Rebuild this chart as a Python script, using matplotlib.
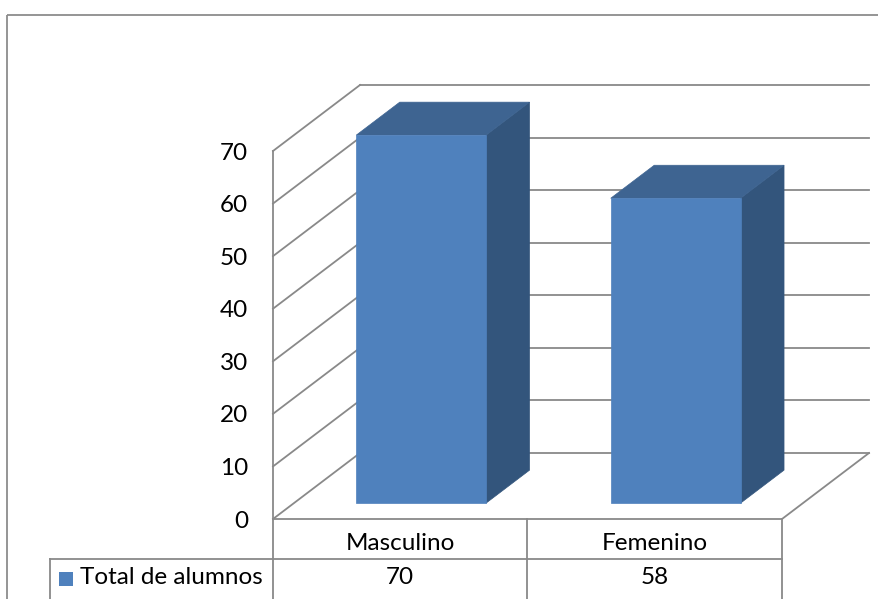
import matplotlib
matplotlib.use("Agg")
import matplotlib.pyplot as plt
from matplotlib.patches import Polygon, Rectangle

categories = ["Masculino", "Femenino"]
values = [70, 58]
series_name = "Total de alumnos"
y_ticks = [0, 10, 20, 30, 40, 50, 60, 70]

W, H = 879, 599
FRONT = "#4F81BD"
TOP = "#3E6491"
SIDE = "#33557C"
GRID = "#898989"
FONT = "Lato"
FS = 17.5

# front plane of the 3D box in pixels
X0, X1 = 273, 782
Y0, YTOP = 519, 151
DEPTH_PX = (87, 66)

fig = plt.figure(figsize=(W / 100, H / 100), dpi=100)

bg = fig.add_axes([0, 0, 1, 1])
bg.set_xlim(0, W)
bg.set_ylim(H, 0)
bg.axis("off")

ax = fig.add_axes([X0 / W, 1 - Y0 / H, (X1 - X0) / W, (Y0 - YTOP) / H])
ax.set_xlim(0, len(categories))
ax.set_ylim(0, max(y_ticks))
ax.patch.set_alpha(0)
for sp in ax.spines.values():
    sp.set_visible(False)
ax.set_xticks([])
ax.set_yticks(y_ticks)
ax.set_yticklabels([str(t) for t in y_ticks], fontsize=FS, family=FONT)
ax.tick_params(axis="y", length=0, pad=18)

DX = DEPTH_PX[0] / (X1 - X0) * len(categories)
DY = DEPTH_PX[1] / (Y0 - YTOP) * max(y_ticks)


def proj(x, v, d):
    return x + d * DX, v + d * DY


lw = 1.3
n = len(categories)
vmax = max(y_ticks)

# back wall gridlines and left wall
for t in y_ticks:
    a, b = proj(0, t, 1), proj(n, t, 1)
    ax.plot([a[0], b[0]], [a[1], b[1]], color=GRID, lw=lw, clip_on=False, zorder=1)
    a, b = proj(0, t, 0), proj(0, t, 1)
    ax.plot([a[0], b[0]], [a[1], b[1]], color=GRID, lw=lw, clip_on=False, zorder=1)
a, b = proj(0, 0, 0), proj(0, vmax, 0)
ax.plot([a[0], b[0]], [a[1], b[1]], color=GRID, lw=lw, clip_on=False, zorder=1)
# floor
a, b, c = proj(0, 0, 0), proj(n, 0, 0), proj(n, 0, 1)
ax.plot([a[0], b[0], c[0]], [a[1], b[1], c[1]], color=GRID, lw=lw, clip_on=False, zorder=1)

# bars
hw, d0, d1 = 0.255, 0.24, 0.74
for i, v in enumerate(values):
    xc = i + 0.5
    front = [proj(xc - hw, 0, d0), proj(xc + hw, 0, d0), proj(xc + hw, v, d0), proj(xc - hw, v, d0)]
    top = [proj(xc - hw, v, d0), proj(xc + hw, v, d0), proj(xc + hw, v, d1), proj(xc - hw, v, d1)]
    side = [proj(xc + hw, 0, d0), proj(xc + hw, 0, d1), proj(xc + hw, v, d1), proj(xc + hw, v, d0)]
    for pts, col in ((side, SIDE), (top, TOP), (front, FRONT)):
        ax.add_patch(Polygon(pts, closed=True, facecolor=col, edgecolor=col, lw=0.5,
                             clip_on=False, zorder=3))

# outer chart border
bg.add_patch(Rectangle((7, 15), 1000, 1000, fill=False, edgecolor="#8c8c8c", lw=1.3))

# data table
mid = (X0 + X1) / 2
row = 559
bg.plot([X0, X0], [Y0, H + 5], color=GRID, lw=lw)
bg.plot([mid, mid], [Y0, H + 5], color=GRID, lw=lw)
bg.plot([X1, X1], [Y0, H + 5], color=GRID, lw=lw)
bg.plot([50, X1], [row, row], color=GRID, lw=lw)
bg.plot([50, 50], [row, H + 5], color=GRID, lw=lw)

col_centers = [(X0 + mid) / 2, (mid + X1) / 2]
for xc, cat, v in zip(col_centers, categories, values):
    bg.text(xc, 544, cat, ha="center", va="center", fontsize=FS, family=FONT)
    bg.text(xc, 578, str(v), ha="center", va="center", fontsize=FS, family=FONT)

bg.add_patch(Rectangle((59, 572), 14, 14, facecolor=FRONT, edgecolor="none"))
bg.text(80, 578, series_name, ha="left", va="center", fontsize=FS, family=FONT)

fig.savefig("out.png", dpi=100)
